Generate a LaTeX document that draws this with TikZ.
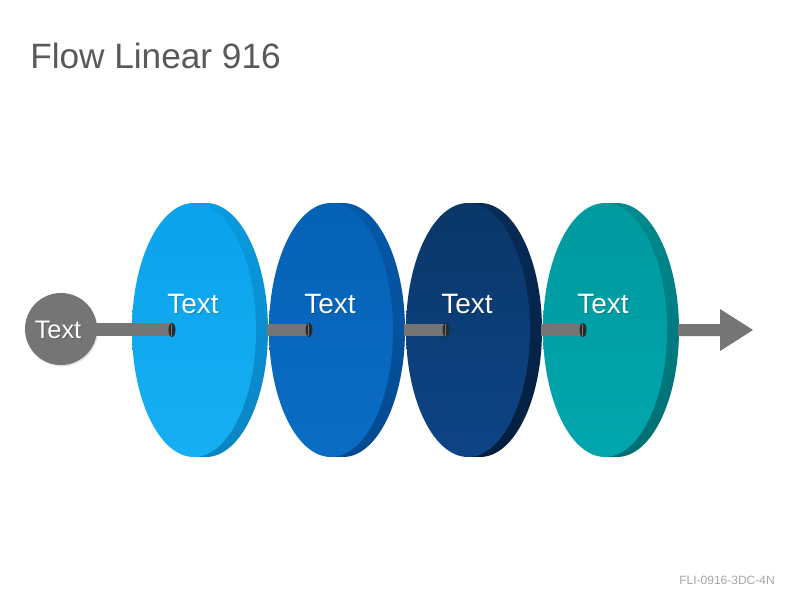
\documentclass[tikz,border=0pt]{standalone}
\usepackage{fontspec}
\setmainfont{Liberation Sans}
\usetikzlibrary{shadows,calc}
\definecolor{rodgray}{HTML}{757575}
\definecolor{holedark}{HTML}{2A2A2A}
\definecolor{titlegray}{HTML}{595959}
\definecolor{footgray}{HTML}{A6A6A6}
\definecolor{aTop}{HTML}{0AA2EB}\definecolor{aBot}{HTML}{16AFF3}\definecolor{aSideT}{HTML}{0A9AE0}\definecolor{aSideB}{HTML}{0A84C2}
\definecolor{bTop}{HTML}{0562B5}\definecolor{bBot}{HTML}{0A6CC4}\definecolor{bSideT}{HTML}{0558A8}\definecolor{bSideB}{HTML}{044A90}
\definecolor{cTop}{HTML}{0A3768}\definecolor{cBot}{HTML}{0D4486}\definecolor{cSideT}{HTML}{072C58}\definecolor{cSideB}{HTML}{041E3E}
\definecolor{dTop}{HTML}{009A9F}\definecolor{dBot}{HTML}{00A6AC}\definecolor{dSideT}{HTML}{008A8F}\definecolor{dSideB}{HTML}{006E72}
\tikzset{
  disctext/.style={text=white,font=\fontsize{21}{25}\selectfont,anchor=base,inner sep=0pt},
  discshadow/.style={text=black,opacity=0.2,font=\fontsize{21}{25}\selectfont,anchor=base,inner sep=0pt},
  rod/.style={draw=none,fill=rodgray},
}
\newcommand{\mydisc}[6]{% cx, name, top, bottom, side top, side bottom
  \shade[top color=#5,bottom color=#6] (#1+12,330) ellipse [x radius=62, y radius=127];
  \shade[top color=#5,bottom color=#6] (#1+0.5,203.2) rectangle (#1+11.5,456.8);
  \shade[top color=#3,bottom color=#4] (#1,330) ellipse [x radius=62, y radius=127];
  \coordinate (#2) at (#1,330);
  \coordinate (#2hole) at (#1-22,330);
  \coordinate (#2out) at (#1+73,330);
}
\begin{document}
\begin{tikzpicture}[x=0.75pt,y=-0.75pt]
\useasboundingbox (0,0) rectangle (800,600);
\fill[white] (0,0) rectangle (800,600);
\node[anchor=base west,inner sep=0pt,text=titlegray,font=\fontsize{26.4}{30}\selectfont] (title) at (30,68) {Flow Linear 916};
\node[anchor=base east,inner sep=0pt,text=footgray,font=\fontsize{9}{11}\selectfont] (foot) at (775,584) {FLI-0916-3DC-4N};
% start circle
\node[circle,fill=rodgray,minimum size=54pt,inner sep=0pt,drop shadow={opacity=0.2,shadow xshift=0.8pt,shadow yshift=-1.2pt}] (start) at (61,329) {};
% discs
\mydisc{194}{d1}{aTop}{aBot}{aSideT}{aSideB}
\mydisc{331}{d2}{bTop}{bBot}{bSideT}{bSideB}
\mydisc{468}{d3}{cTop}{cBot}{cSideT}{cSideB}
\mydisc{605}{d4}{dTop}{dBot}{dSideT}{dSideB}
% rod from the start circle into disc 1
\fill[rod] ($(start.east)+(-3,-6)$) rectangle ($(d1hole)+(0,6)$);
\fill[holedark] (d1hole) ellipse [x radius=3.5, y radius=7];
\fill[rod] ($(d1hole)+(-1.5,-6)$) rectangle ($(d1hole)+(0,6)$);
% rods between discs
\foreach \a/\b in {d1/d2,d2/d3,d3/d4}{
  \fill[rod] ($(\a out)+(0,-6)$) rectangle ($(\b hole)+(0,6)$);
  \fill[holedark] (\b hole) ellipse [x radius=3.5, y radius=7];
  \fill[rod] ($(\b hole)+(-1.5,-6)$) rectangle ($(\b hole)+(0,6)$);
}
% outgoing arrow
\coordinate (tip) at (753,330);
\fill[rodgray] ($(d4out)+(0,-6)$) -- ($(tip)+(-33,-6)$) -- ($(tip)+(-33,-21)$) -- (tip)
  -- ($(tip)+(-33,21)$) -- ($(tip)+(-33,6)$) -- ($(d4out)+(0,6)$) -- cycle;
% labels
\node[text=black,opacity=0.2,font=\fontsize{19}{23}\selectfont,anchor=base,inner sep=0pt] at (59,339) {Text};
\node[text=white,font=\fontsize{19}{23}\selectfont,anchor=base,inner sep=0pt] (starttext) at (58,338) {Text};
\foreach \x [count=\i] in {193,330,467,603}{
  \node[discshadow] at (\x+1,314) {Text};
  \node[disctext] (t\i) at (\x,313) {Text};
}
\end{tikzpicture}
\end{document}
